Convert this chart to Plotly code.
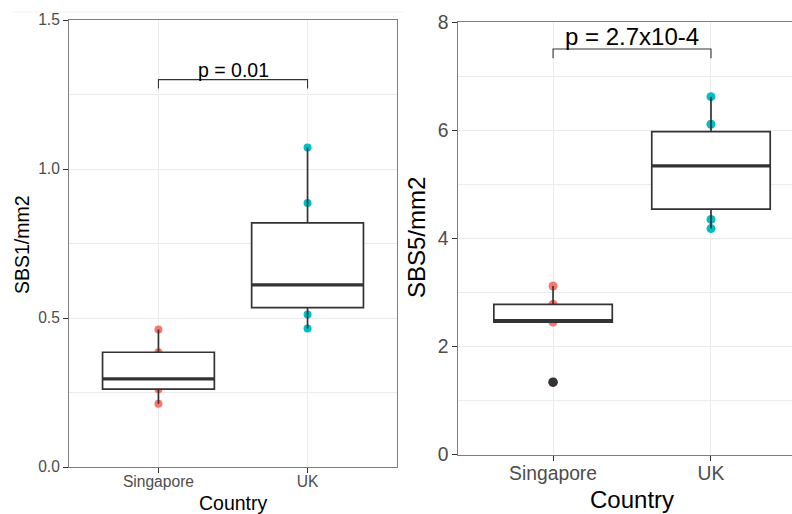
import numpy as np
import plotly.graph_objects as go

# ---------------- data ----------------
countries = ["Singapore", "UK"]
country_colors = ["#F8766D", "#00BFC4"]

sbs1_singapore = [0.212, 0.261, 0.296, 0.385, 0.461]
sbs1_uk = [0.465, 0.512, 0.604, 0.618, 0.886, 1.072]

sbs5_singapore = [1.34, 2.45, 2.48, 2.78, 3.12]
sbs5_uk = [4.18, 4.35, 5.11, 5.57, 6.11, 6.62]

sbs1_p_label = "p = 0.01"
sbs5_p_label = "p = 2.7x10-4"
sbs1_bracket = [1.27, 1.30]
sbs5_bracket = [7.33, 7.50]

panels = [
    dict(values=[sbs1_singapore, sbs1_uk], xa="x", ya="y",
         bracket=sbs1_bracket, label=sbs1_p_label, ptsize=8, pfont=19.5),
    dict(values=[sbs5_singapore, sbs5_uk], xa="x2", ya="y2",
         bracket=sbs5_bracket, label=sbs5_p_label, ptsize=9, pfont=24),
]

BOX_W = 0.75
DARK = "#333333"
FONT = "Liberation Sans, Arial, Helvetica, sans-serif"


def box_stats(vals):
    a = np.asarray(vals, dtype=float)
    q1, med, q3 = np.percentile(a, [25, 50, 75])  # same as R type 7
    iqr = q3 - q1
    inside = a[(a >= q1 - 1.5 * iqr) & (a <= q3 + 1.5 * iqr)]
    outl = a[(a < q1 - 1.5 * iqr) | (a > q3 + 1.5 * iqr)]
    return q1, med, q3, inside.min(), inside.max(), outl.tolist()


fig = go.Figure()
annotations = []

for p in panels:
    for i, (cname, col, vals) in enumerate(zip(countries, country_colors, p["values"])):
        pos = i + 1
        q1, med, q3, lf, uf, outl = box_stats(vals)
        # points (drawn first, under the box)
        fig.add_trace(go.Box(
            x=[pos] * len(vals), y=vals, boxpoints="all", jitter=0, pointpos=0,
            marker=dict(color=col, size=p["ptsize"], line=dict(width=0)),
            line=dict(color="rgba(0,0,0,0)", width=0),
            fillcolor="rgba(0,0,0,0)", width=BOX_W, whiskerwidth=0,
            hoverinfo="skip", showlegend=False,
            xaxis=p["xa"], yaxis=p["ya"]))
        # visible box from type-7 statistics
        fig.add_trace(go.Box(
            x=[pos], q1=[q1], median=[med], q3=[q3],
            lowerfence=[lf], upperfence=[uf], boxpoints=False,
            line=dict(color=DARK, width=1.7), fillcolor="white",
            width=BOX_W, whiskerwidth=0, showlegend=False,
            xaxis=p["xa"], yaxis=p["ya"]))
        # outliers on top
        if outl:
            fig.add_trace(go.Box(
                x=[pos] * len(outl), y=outl, boxpoints="all", jitter=0, pointpos=0,
                marker=dict(color=DARK, size=p["ptsize"] + 0.5, line=dict(width=0)),
                line=dict(color="rgba(0,0,0,0)", width=0),
                fillcolor="rgba(0,0,0,0)", width=BOX_W, whiskerwidth=0,
                hoverinfo="skip", showlegend=False,
                xaxis=p["xa"], yaxis=p["ya"]))
        # thick median line
        fig.add_trace(go.Scatter(
            x=[pos - BOX_W / 2, pos + BOX_W / 2], y=[med, med], mode="lines",
            line=dict(color=DARK, width=3.3), showlegend=False, hoverinfo="skip",
            xaxis=p["xa"], yaxis=p["ya"]))
    # significance bracket
    lo, hi = p["bracket"]
    fig.add_trace(go.Scatter(
        x=[1, 1, 2, 2], y=[lo, hi, hi, lo], mode="lines",
        line=dict(color=DARK, width=1.1), showlegend=False, hoverinfo="skip",
        xaxis=p["xa"], yaxis=p["ya"]))
    annotations.append(dict(
        x=1.5, y=hi, xref=p["xa"], yref=p["ya"], text=p["label"],
        showarrow=False, yanchor="bottom", yshift=-3,
        font=dict(family=FONT, size=p["pfont"], color="black")))

W, H = 792, 514


def px_x(v):
    return v / W


def px_y(v):
    return (H - v) / H


common_axis = dict(
    showline=True, linecolor="#7F7F7F", linewidth=1,
    ticks="outside", ticklen=5, tickwidth=1, tickcolor=DARK,
    showgrid=True, gridcolor="#EBEBEB", gridwidth=1, zeroline=False,
    automargin=False,
)

fig.update_layout(
    template="none",
    width=W, height=H, margin=dict(l=0, r=0, t=0, b=0, pad=0),
    paper_bgcolor="white", plot_bgcolor="white", boxmode="overlay",
    showlegend=False,
    xaxis=dict(common_axis, domain=[px_x(69), px_x(397)], anchor="y",
               range=[0.4, 2.6], tickvals=[1, 2], ticktext=countries,
               mirror=True, ticklabelstandoff=-5,
               tickfont=dict(family=FONT, size=15.6, color="#4D4D4D")),
    yaxis=dict(common_axis, domain=[px_y(467), px_y(20)], anchor="x",
               range=[0, 1.5], tickvals=[0, 0.5, 1.0, 1.5],
               ticktext=["0.0", "0.5", "1.0", "1.5"], mirror=True,
               minor=dict(tickvals=[0.25, 0.75, 1.25], showgrid=True,
                          gridcolor="#EBEBEB", gridwidth=0.8, ticks=""),
               tickfont=dict(family=FONT, size=15.6, color="#4D4D4D")),
    xaxis2=dict(common_axis, domain=[px_x(458.3), 1.0], anchor="y2",
                range=[0.4, 2.513], tickvals=[1, 2], ticktext=countries,
                mirror=True, ticklabelstandoff=-4,
                tickfont=dict(family=FONT, size=19.3, color="#4D4D4D")),
    yaxis2=dict(common_axis, domain=[px_y(454.7), px_y(22)], anchor="x2",
                range=[0, 8], tickvals=[0, 2, 4, 6, 8],
                minor=dict(tickvals=[1, 3, 5, 7], showgrid=True,
                           gridcolor="#EBEBEB", gridwidth=0.8, ticks=""),
                tickfont=dict(family=FONT, size=19.3, color="#4D4D4D")),
    shapes=[dict(type="line", xref="paper", yref="paper",
                 x0=px_x(12), x1=px_x(404), y0=px_y(12), y1=px_y(12),
                 line=dict(color="#F2F2F2", width=1))],
)

# axis titles
annotations += [
    dict(x=px_x(233.5), y=px_y(503), xref="paper", yref="paper", text="Country",
         showarrow=False, xanchor="center", yanchor="middle",
         font=dict(family=FONT, size=19.5, color="black")),
    dict(x=px_x(631.5), y=px_y(499.5), xref="paper", yref="paper", text="Country",
         showarrow=False, xanchor="center", yanchor="middle",
         font=dict(family=FONT, size=24, color="black")),
    dict(x=px_x(22), y=px_y(245), xref="paper", yref="paper", text="SBS1/mm2",
         showarrow=False, xanchor="center", yanchor="middle", textangle=-90,
         font=dict(family=FONT, size=19.5, color="black")),
    dict(x=px_x(416), y=px_y(238), xref="paper", yref="paper", text="SBS5/mm2",
         showarrow=False, xanchor="center", yanchor="middle", textangle=-90,
         font=dict(family=FONT, size=24, color="black")),
]
fig.update_layout(annotations=annotations)

fig.write_html("out.html")
